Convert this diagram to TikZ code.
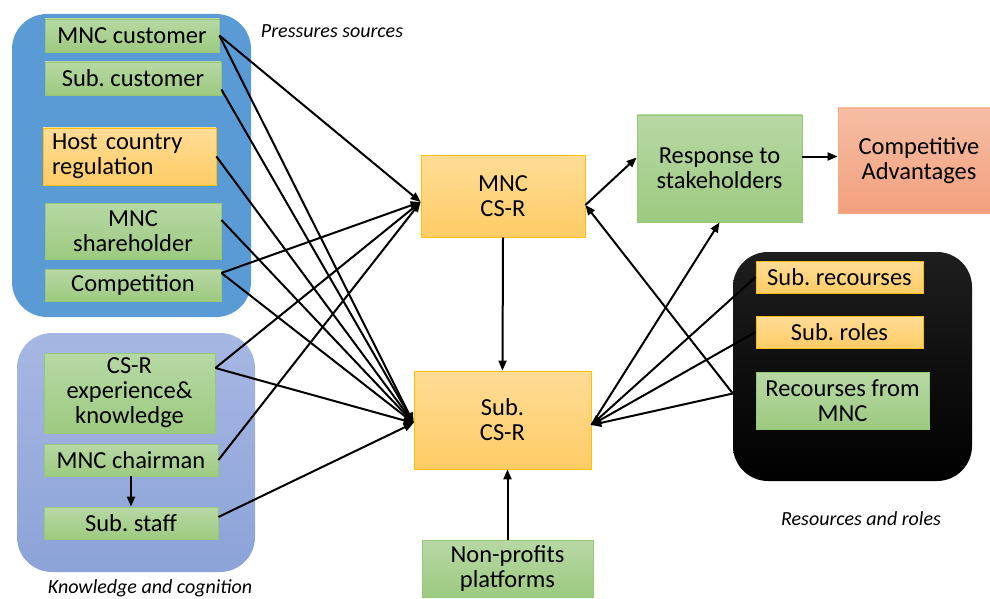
\documentclass[tikz,border=0pt]{standalone}
\usepackage{fontspec}
\setmainfont{Carlito}
\usetikzlibrary{arrows.meta}
\frenchspacing

\definecolor{grtop}{RGB}{183,216,165}
\definecolor{grbot}{RGB}{157,202,128}
\definecolor{grline}{RGB}{150,200,120}
\definecolor{ortop}{RGB}{255,220,150}
\definecolor{orbot}{RGB}{255,204,102}
\definecolor{orline}{RGB}{255,192,0}
\definecolor{satop}{RGB}{246,190,165}
\definecolor{sabot}{RGB}{242,160,125}
\definecolor{saline}{RGB}{244,170,130}
\definecolor{presblue}{RGB}{91,155,213}
\definecolor{kntop}{RGB}{167,183,227}
\definecolor{knbot}{RGB}{140,163,216}
\definecolor{blktop}{RGB}{30,30,30}

\begin{document}
\begin{tikzpicture}[x=1pt,y=-1pt,
  green/.style={draw=grline, top color=grtop, bottom color=grbot, line width=0.8pt,
    inner sep=2pt, align=center, font=\fontsize{24.5}{25}\selectfont},
  orange/.style={draw=orline, top color=ortop, bottom color=orbot, line width=0.8pt,
    inner sep=2pt, align=center, font=\fontsize{24.5}{25}\selectfont},
  salmon/.style={draw=saline, top color=satop, bottom color=sabot, line width=0.8pt,
    inner sep=2pt, align=center, font=\fontsize{24.5}{25}\selectfont},
  group/.style={rounded corners=35pt, inner sep=0pt},
  caption/.style={font=\fontsize{20}{21}\selectfont\itshape},
  link/.style={line width=2pt, -{Triangle[length=10pt,width=8pt]}}]
  \useasboundingbox (0,0) rectangle (990,599);

  % groups
  \node[group, fill=presblue, minimum width=239pt, minimum height=303pt] (presgrp) at (131.5,165.5) {};
  \node[group, top color=kntop, bottom color=knbot, minimum width=238pt, minimum height=239pt] (knowgrp) at (136,452.5) {};
  \node[group, top color=blktop, bottom color=black, minimum width=239pt, minimum height=229pt] (resgrp) at (852.5,366.5) {};

  \node[caption] (prescap) at (332,31) {Pressures sources};
  \node[caption] (knowcap) at (150,588) {Knowledge and cognition};
  \node[caption] (rescap) at (861,519) {Resources and roles};

  % pressure sources
  \node[green, minimum width=174pt, minimum height=33pt] (mnccust) at (132,35.5) {MNC customer};
  \node[green, minimum width=176pt, minimum height=33pt] (subcust) at (133,78.5) {Sub. customer};
  \node[orange, minimum width=173pt, minimum height=57pt, inner xsep=9pt, text width=155pt, align=left] (host) at (129.5,156.5) {Host country\\regulation};
  \node[green, minimum width=176pt, minimum height=56pt] (sharehold) at (133,231) {MNC\\shareholder};
  \node[green, minimum width=176pt, minimum height=32pt] (compet) at (133,285) {Competition};

  % knowledge and cognition
  \node[green, minimum width=171pt, minimum height=80pt] (csrexp) at (129.5,393) {CS-R\\experience\&\\knowledge};
  \node[green, minimum width=174pt, minimum height=32pt] (chairman) at (131,460) {MNC chairman};
  \node[green, minimum width=174pt, minimum height=32pt] (substaff) at (131,523) {Sub. staff};

  % centre
  \node[orange, minimum width=164pt, minimum height=82pt] (mnccsr) at (503,196) {MNC\\CS-R};
  \node[orange, minimum width=177pt, minimum height=98pt] (subcsr) at (502.5,420) {Sub.\\CS-R};
  \node[green, minimum width=171pt, minimum height=57pt] (nonprofit) at (507.5,568.5) {Non-profits\\platforms};

  % right
  \node[green, minimum width=165pt, minimum height=107pt] (response) at (719.5,168.5) {Response to\\stakeholders};
  \node[salmon, minimum width=162pt, minimum height=105pt] (advant) at (919,160.5) {Competitive\\Advantages};

  % resources and roles
  \node[orange, minimum width=167pt, minimum height=32pt] (subrec) at (839.5,277) {Sub. recourses};
  \node[orange, minimum width=167pt, minimum height=32pt] (subroles) at (839.5,332) {Sub. roles};
  \node[green, minimum width=173pt, minimum height=57pt] (recmnc) at (842.5,400.5) {Recourses from\\MNC};
  \coordinate (recedge) at ([yshift=7pt]recmnc.west -| resgrp.west);

  % links into MNC CS-R
  \draw[link] (mnccust.east) -- ([yshift=-6pt]mnccsr.west);
  \draw[link] ([yshift=12pt]compet.east) -- ([yshift=-6pt]mnccsr.west);
  \draw[link] ([yshift=25pt]csrexp.east) -- ([yshift=-6pt]mnccsr.west);
  \draw[link] (chairman.east) -- ([yshift=-6pt]mnccsr.west);

  % links into Sub. CS-R
  \draw[link] (mnccust.east) -- ([yshift=-3pt]subcsr.west);
  \draw[link] ([yshift=-11pt]subcust.east) -- ([yshift=-3pt]subcsr.west);
  \draw[link] (host.east) -- ([yshift=-3pt]subcsr.west);
  \draw[link] ([yshift=11pt]sharehold.east) -- ([yshift=-3pt]subcsr.west);
  \draw[link] ([yshift=12pt]compet.east) -- ([yshift=-3pt]subcsr.west);
  \draw[link] ([yshift=25pt]csrexp.east) -- ([yshift=-3pt]subcsr.west);
  \draw[link] ([yshift=6pt]substaff.east) -- ([yshift=-3pt]subcsr.west);

  \draw[link] (chairman.south) -- (substaff.north);
  \draw[link] (mnccsr.south) -- (subcsr.north);
  \draw[link] (nonprofit.north) -- (nonprofit.north |- subcsr.south);

  % right side
  \draw[link] ([yshift=-9pt]mnccsr.east) -- ([yshift=11pt]response.west);
  \draw[link] ([yshift=12pt]response.east) -- ([yshift=12pt]response.east -| advant.west);
  \draw[link] ([yshift=-5pt]subcsr.east) -- (response.south);
  \draw[link] (recedge) -- ([yshift=-9pt]mnccsr.east);
  \draw[link] (recedge) -- ([yshift=-5pt]subcsr.east);
  \draw[link] (subrec.west) -- ([yshift=-5pt]subcsr.east);
  \draw[link] (subroles.west) -- ([yshift=-5pt]subcsr.east);
\end{tikzpicture}
\end{document}
